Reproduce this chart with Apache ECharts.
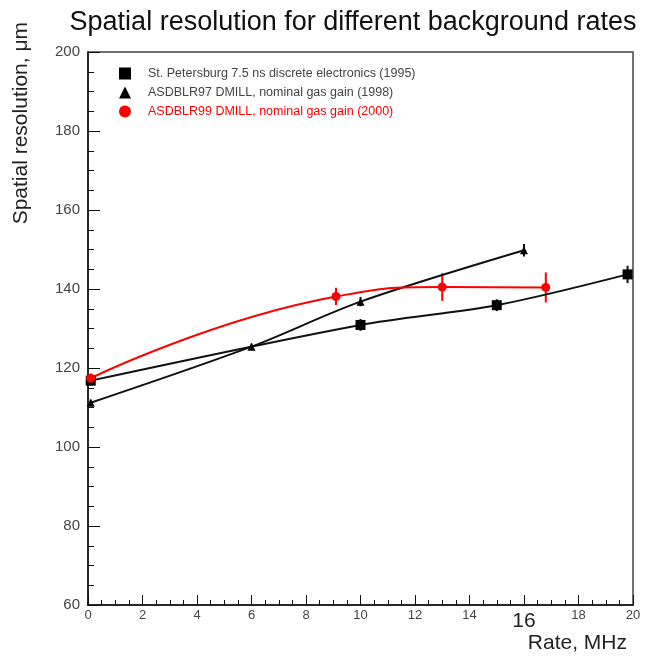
<!DOCTYPE html>
<html>
<head>
<meta charset="utf-8">
<script src="https://cdn.jsdelivr.net/npm/echarts@6/dist/echarts.min.js"></script>
<style>
  html, body { margin: 0; padding: 0; background: #fff; }
  #chart { width: 662px; height: 658px; }
</style>
</head>
<body>
<div id="chart"></div>
<script>
// St. Petersburg 7.5 ns discrete electronics (1995)
const spbX = [0.1, 10, 15, 19.8];
const spbY = [116.8, 130.9, 135.9, 143.7];
const spbErr = [1.2, 1.5, 1.5, 2.2];

// ASDBLR97 DMILL, nominal gas gain (1998)
const asd97X = [0.1, 6, 10, 16];
const asd97Y = [111.2, 125.4, 136.8, 149.8];
const asd97Err = [0.8, 0.8, 1.2, 1.6];

// ASDBLR99 DMILL, nominal gas gain (2000)
const asd99X = [0.1, 9.1, 13, 16.8];
const asd99Y = [117.4, 138.1, 140.5, 140.4];
const asd99Err = [1.2, 2.2, 3.5, 3.8];

const names = [
  'St. Petersburg 7.5 ns discrete electronics (1995)',
  'ASDBLR97 DMILL, nominal gas gain (1998)',
  'ASDBLR99 DMILL, nominal gas gain (2000)'
];

const pairs = (xs, ys) => xs.map((x, i) => [x, ys[i]]);
const errData = (xs, ys, es) => xs.map((x, i) => [x, ys[i] - es[i], ys[i] + es[i]]);

function errorBars(color) {
  return function (params, api) {
    const lo = api.coord([api.value(0), api.value(1)]);
    const hi = api.coord([api.value(0), api.value(2)]);
    return {
      type: 'line',
      shape: { x1: lo[0], y1: lo[1], x2: hi[0], y2: hi[1] },
      style: { stroke: color, lineWidth: 2 }
    };
  };
}

const chart = echarts.init(document.getElementById('chart'));

chart.setOption({
  backgroundColor: '#fff',
  animation: false,
  title: {
    text: 'Spatial resolution for different background rates',
    left: 348,
    textAlign: 'center',
    top: 4,
    textStyle: { fontFamily: 'Liberation Sans', fontSize: 27, fontWeight: 'normal', color: '#111' }
  },
  legend: {
    orient: 'vertical',
    left: 114,
    top: 62,
    itemWidth: 12,
    itemHeight: 12,
    itemGap: 6,
    textStyle: { fontFamily: 'Liberation Sans', fontSize: 12.5, padding: [0, 0, 0, 12] },
    data: [
      { name: names[0], icon: 'rect', textStyle: { color: '#444' } },
      { name: names[1], icon: 'triangle', textStyle: { color: '#444' } },
      { name: names[2], icon: 'circle', textStyle: { color: '#f00' } }
    ]
  },
  grid: { left: 88, right: 29, top: 52, bottom: 53, show: true, borderColor: '#444', borderWidth: 1.5 },
  xAxis: {
    type: 'value',
    min: 0,
    max: 20,
    interval: 2,
    name: 'Rate, MHz',
    nameLocation: 'end',
    nameGap: 0,
    nameTextStyle: { fontFamily: 'Liberation Sans', fontSize: 21, color: '#222', align: 'right', verticalAlign: 'top', padding: [28, 6, 0, 0] },
    axisLine: { lineStyle: { color: '#111', width: 1.5 } },
    axisTick: { inside: true, length: 10, lineStyle: { color: '#111' } },
    minorTick: { show: true, splitNumber: 4, length: 5, lineStyle: { color: '#111' } },
    splitLine: { show: false },
    axisLabel: {
      fontFamily: 'Liberation Sans',
      fontSize: 13,
      color: '#444',
      margin: 4,
      formatter: v => (v === 16 ? '{big|16}' : String(v)),
      rich: { big: { fontFamily: 'Liberation Sans', fontSize: 21, color: '#222', padding: [2, 0, 0, 0] } }
    }
  },
  yAxis: {
    type: 'value',
    min: 60,
    max: 200,
    interval: 20,
    name: 'Spatial resolution, μm',
    nameLocation: 'end',
    nameRotate: 90,
    nameGap: 0,
    nameTextStyle: { fontFamily: 'Liberation Sans', fontSize: 21, color: '#222', align: 'right', verticalAlign: 'bottom', padding: [0, -30, 56, 0] },
    axisLine: { show: true, lineStyle: { color: '#111', width: 1.5 } },
    axisTick: { inside: true, length: 12, lineStyle: { color: '#111' } },
    minorTick: { show: true, splitNumber: 4, length: 6, lineStyle: { color: '#111' } },
    splitLine: { show: false },
    axisLabel: { fontFamily: 'Liberation Sans', fontSize: 15, color: '#444', margin: 8 }
  },
  series: [
    {
      name: names[0],
      type: 'line',
      smooth: 0.3,
      data: pairs(spbX, spbY),
      symbol: 'rect',
      symbolSize: 10,
      itemStyle: { color: '#000' },
      lineStyle: { color: '#111', width: 2 }
    },
    {
      name: names[1],
      type: 'line',
      smooth: 0.3,
      data: pairs(asd97X, asd97Y),
      symbol: 'triangle',
      symbolSize: 8,
      itemStyle: { color: '#000' },
      lineStyle: { color: '#111', width: 2 }
    },
    {
      name: names[2],
      type: 'line',
      smooth: 0.5,
      data: pairs(asd99X, asd99Y),
      symbol: 'circle',
      symbolSize: 9,
      itemStyle: { color: '#f00' },
      lineStyle: { color: '#f00', width: 2 }
    },
    { type: 'custom', renderItem: errorBars('#111'), data: errData(spbX, spbY, spbErr), z: 1 },
    { type: 'custom', renderItem: errorBars('#111'), data: errData(asd97X, asd97Y, asd97Err), z: 1 },
    { type: 'custom', renderItem: errorBars('#f00'), data: errData(asd99X, asd99Y, asd99Err), z: 1 }
  ]
});
</script>
</body>
</html>
